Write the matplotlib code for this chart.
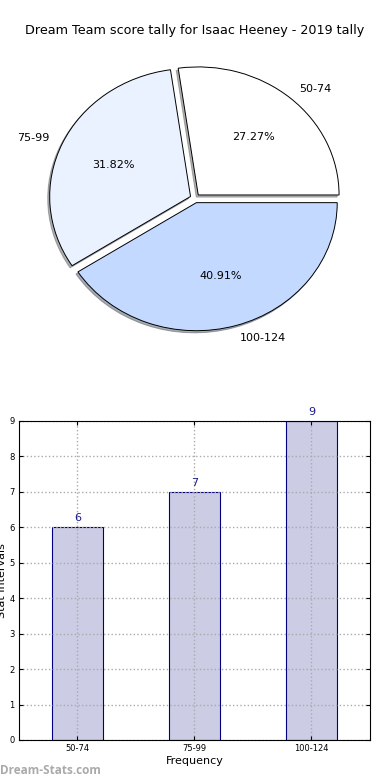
import matplotlib
matplotlib.use("Agg")
import matplotlib.pyplot as plt

categories = ["50-74", "75-99", "100-124"]
counts = [6, 7, 9]
pie_colors = ["#FFFFFF", "#EAF1FF", "#C4D9FF"]
title = "Dream Team score tally for Isaac Heeney - 2019 tally"

fig = plt.figure(figsize=(3.9, 7.8), dpi=100)

# Pie chart (elliptical, as in the reference)
axp = fig.add_axes([26 / 390, 0.5487, 338 / 390, 0.394])
wedges, texts, autotexts = axp.pie(
    counts, labels=categories, colors=pie_colors, explode=[0.035] * 3,
    autopct="%.2f%%", shadow={"ox": -0.01, "oy": -0.012, "shade": 0.6},
    startangle=0, counterclock=True,
    wedgeprops=dict(edgecolor="black", linewidth=0.7),
    textprops=dict(fontsize=8))
axp.set_aspect("auto")
axp.set_xlim(-1.2, 1.2)
axp.set_ylim(-1.2, 1.2)
fig.text(0.5, 0.961, title, ha="center", va="center", fontsize=9.2)

# Bar chart
axb = fig.add_axes([0.0487, 0.0513, 0.9, 0.409])
x = list(range(len(categories)))
bars = axb.bar(x, counts, width=0.44, color="#CCCCE5", edgecolor="#000080", linewidth=0.8, zorder=2)
for xi, v in zip(x, counts):
    axb.text(xi, v + 0.12, str(v), ha="center", va="bottom", fontsize=8, color="#1a1a8c")
axb.set_xlim(-0.5, 2.5)
axb.set_ylim(0, 9)
axb.set_xticks(x)
axb.set_xticklabels(categories, fontsize=6)
axb.set_yticks(range(0, 10))
axb.tick_params(axis="y", labelsize=6)
axb.tick_params(direction="in", top=True, right=True, length=3, pad=3)
axb.grid(True, linestyle=":", color="#aaaaaa", linewidth=1, zorder=3)
axb.set_axisbelow(False)
for sp in axb.spines.values():
    sp.set_zorder(5)
axb.set_xlabel("Frequency", fontsize=8, labelpad=2)
axb.set_ylabel("Stat Intervals", fontsize=8, labelpad=2)

fig.text(0.0, 0.012, "Dream-Stats.com", fontsize=8.5, color="#aaaaaa", fontweight="bold",
         family="Open Sans", ha="left", va="center")

fig.savefig("out.png", dpi=100)
